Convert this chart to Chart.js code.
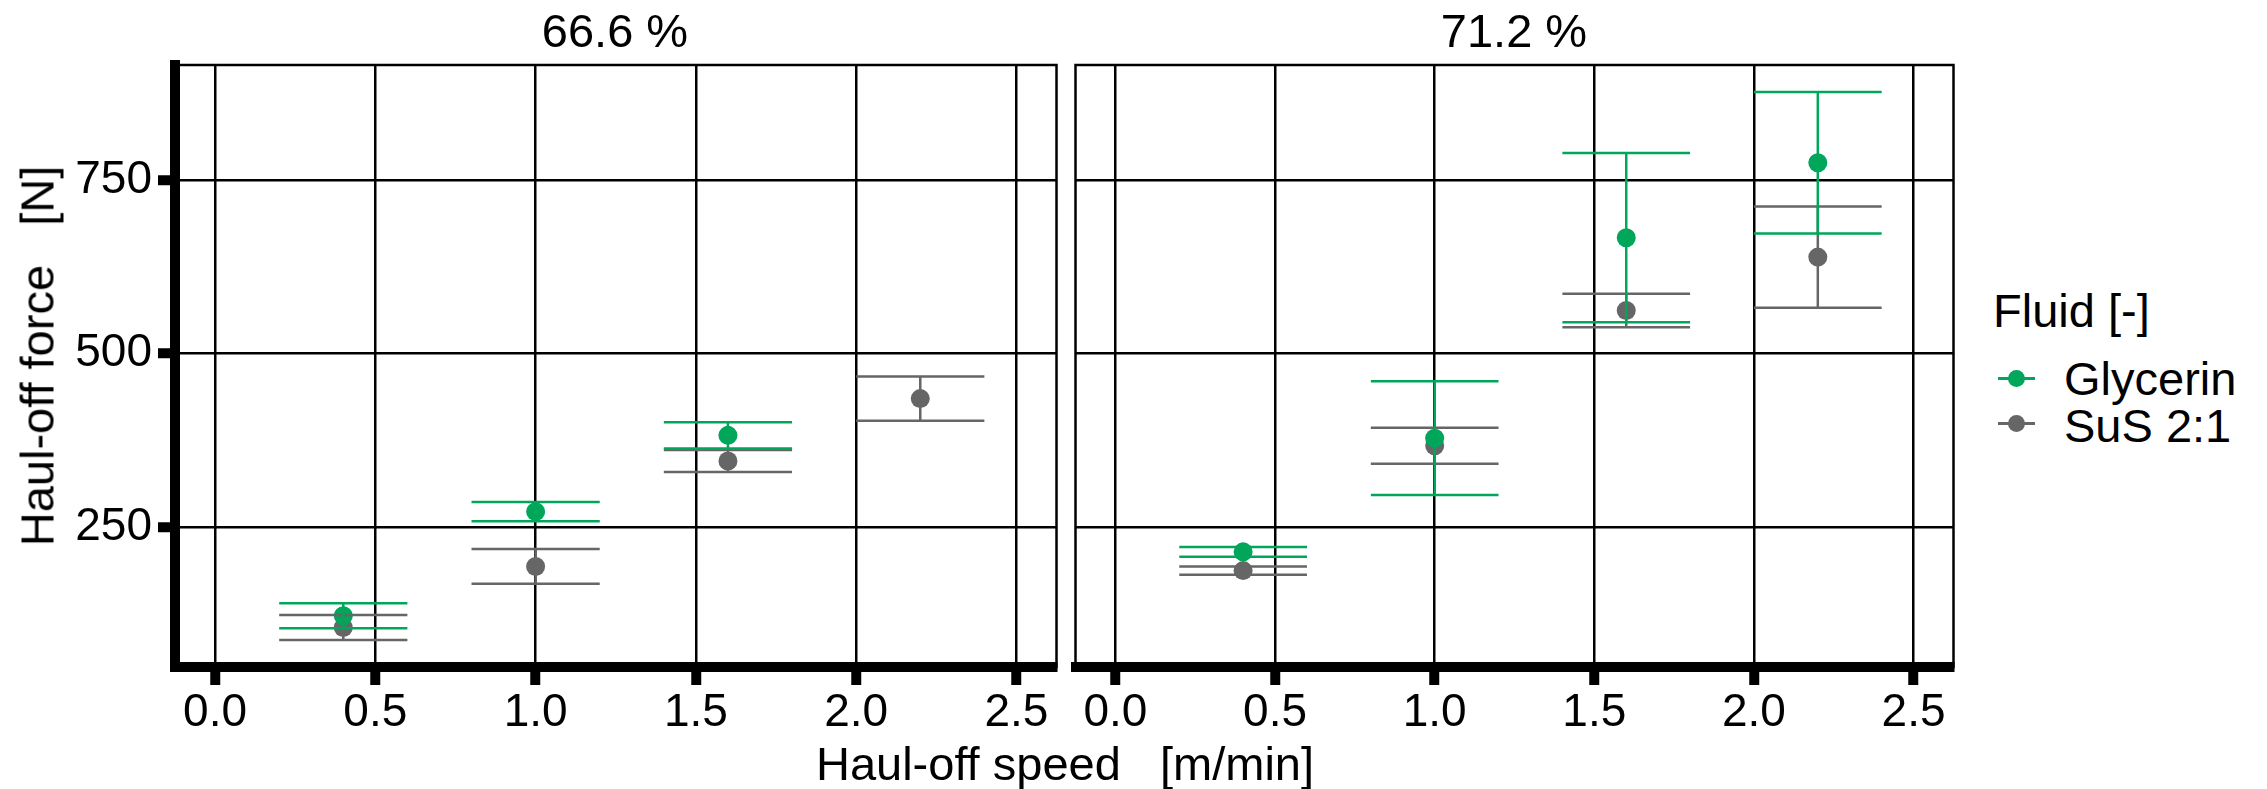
<!DOCTYPE html>
<html>
<head>
<meta charset="utf-8">
<script src="https://cdn.jsdelivr.net/npm/chart.js@4.4.0/dist/chart.umd.min.js"></script>
<style>
  html, body { margin: 0; padding: 0; background: #fff; }
  body { width: 2267px; height: 789px; position: relative; overflow: hidden;
         font-family: 'Liberation Sans', Arial, sans-serif; }
  canvas { position: absolute; top: 0; }
  .txt { position: absolute; font-size: 47px; line-height: 47px; white-space: pre; color: #000; }
  .ctr { transform: translateX(-50%); }
  .key-line { position: absolute; height: 2.5px; width: 37px; left: 1998px; }
  .key-dot { position: absolute; width: 17px; height: 17px; border-radius: 50%; left: 2008px; }
</style>
</head>
<body>
<canvas id="left" width="1066" height="789" style="left:0"></canvas>
<canvas id="right" width="897" height="789" style="left:1066px"></canvas>

<div class="txt ctr" style="left:615px; top:7px">66.6 %</div>
<div class="txt ctr" style="left:1514px; top:7px">71.2 %</div>
<div class="txt ctr" style="left:1065px; top:740px">Haul-off speed   [m/min]</div>
<div class="txt" style="left:37px; top:356px; transform: translate(-50%,-50%) rotate(-90deg)">Haul-off force   [N]</div>

<div class="txt" style="left:1993px; top:287px">Fluid [-]</div>
<div class="key-line" style="top:377px; background:#00a65a"></div>
<div class="key-dot" style="top:370px; background:#00a65a"></div>
<div class="txt" style="left:2064px; top:355px">Glycerin</div>
<div class="key-line" style="top:422px; background:#666666"></div>
<div class="key-dot" style="top:415px; background:#666666"></div>
<div class="txt" style="left:2064px; top:402px">SuS 2:1</div>

<script>
// Haul-off speed [m/min]
const speeds = [0.4, 1.0, 1.6, 2.2];

// 66.6 % : mean and sd of haul-off force [N]
const gly666Mean = [122, 272, 382];
const gly666Sd   = [18, 14, 19];
const sus666Mean = [105, 193, 345, 435];
const sus666Sd   = [18, 25, 16, 32];

// 71.2 %
const gly712Mean = [214, 378, 667, 775];
const gly712Sd   = [7, 82, 122, 102];
const sus712Mean = [187, 367, 562, 639];
const sus712Sd   = [6, 26, 24, 73];

const xTicks = [0.0, 0.5, 1.0, 1.5, 2.0, 2.5];
const yTicks = [250, 500, 750];

const GREEN = '#00a65a';
const GREY = '#666666';
const CAP = 0.2;   // half width of the error bar caps (x units)

Chart.defaults.font.family = "'Liberation Sans', Arial, sans-serif";
Chart.defaults.font.size = 46;
Chart.defaults.color = '#000';

// caps + vertical stem for every point, split with y:null gaps
function errorBars(means, sds) {
  const pts = [];
  means.forEach((m, i) => {
    const x = speeds[i];
    const hi = m + sds[i], lo = m - sds[i];
    pts.push({x: x - CAP, y: hi}, {x: x + CAP, y: hi}, {x: x, y: null});
    pts.push({x: x - CAP, y: lo}, {x: x + CAP, y: lo}, {x: x, y: null});
    pts.push({x: x, y: lo}, {x: x, y: hi}, {x: x, y: null});
  });
  return pts;
}

function points(means) {
  return means.map((m, i) => ({x: speeds[i], y: m}));
}

const panelBorder = {
  id: 'panelBorder',
  afterDraw(chart) {
    const a = chart.chartArea, ctx = chart.ctx;
    ctx.save();
    ctx.strokeStyle = '#000';
    ctx.lineWidth = 2.5;
    ctx.strokeRect(a.left, a.top, a.right - a.left, a.bottom - a.top);
    ctx.restore();
  }
};

function makePanel(id, gMean, gSd, sMean, sSd, first) {
  // lower order = drawn on top: SuS points, Glycerin points, SuS bars, Glycerin bars
  return new Chart(document.getElementById(id), {
    type: 'scatter',
    data: {
      datasets: [
        {data: points(gMean), backgroundColor: GREEN, pointRadius: 9.5, borderWidth: 0, order: 3},
        {data: points(sMean), backgroundColor: GREY, pointRadius: 9.5, borderWidth: 0, order: 4},
        {data: errorBars(gMean, gSd), showLine: true, spanGaps: false, pointRadius: 0,
         borderColor: GREEN, borderWidth: 2.5, order: 1},
        {data: errorBars(sMean, sSd), showLine: true, spanGaps: false, pointRadius: 0,
         borderColor: GREY, borderWidth: 2.5, order: 2}
      ]
    },
    options: {
      responsive: false,
      animation: false,
      devicePixelRatio: 1,
      layout: {padding: first ? {top: 65, right: 8, left: 0, bottom: 0}
                              : {top: 65, right: 8, left: 9, bottom: 0}},
      plugins: {legend: {display: false}, tooltip: {enabled: false}},
      scales: {
        x: {
          type: 'linear', min: -0.125, max: 2.625,
          afterBuildTicks: s => { s.ticks = xTicks.map(v => ({value: v})); },
          afterFit: s => { s.height = 122; },
          ticks: {padding: 1, callback: v => v.toFixed(1), maxRotation: 0, autoSkip: false},
          grid: {color: '#000', lineWidth: 2.5, tickLength: 18, tickWidth: 10, tickColor: '#000'},
          border: {display: true, color: '#000', width: 10}
        },
        y: {
          type: 'linear', min: 48, max: 916,
          afterBuildTicks: s => { s.ticks = yTicks.map(v => ({value: v})); },
          afterFit: s => { s.width = first ? 175 : 0; },
          ticks: {display: first, padding: 6},
          grid: {color: '#000', lineWidth: 2.5, drawTicks: first, tickLength: 17, tickWidth: 10, tickColor: '#000'},
          border: {display: first, color: '#000', width: 10}
        }
      }
    },
    plugins: [panelBorder]
  });
}

makePanel('left', gly666Mean, gly666Sd, sus666Mean, sus666Sd, true);
makePanel('right', gly712Mean, gly712Sd, sus712Mean, sus712Sd, false);
</script>
</body>
</html>
